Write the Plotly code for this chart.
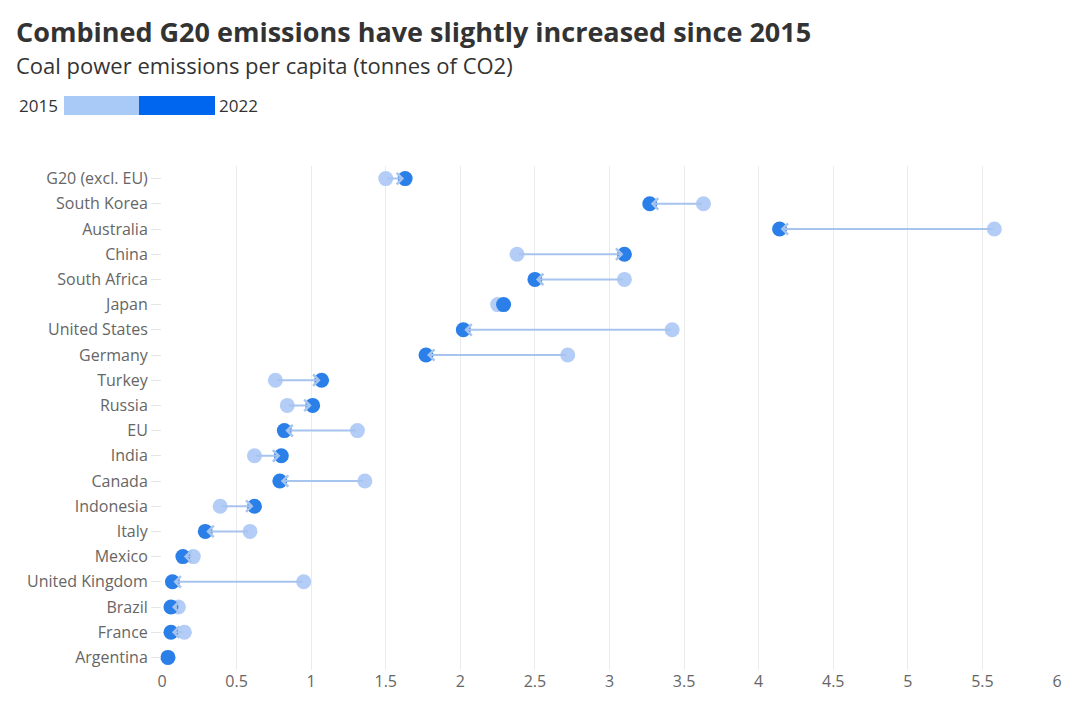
import plotly.graph_objects as go

countries = ["G20 (excl. EU)", "South Korea", "Australia", "China", "South Africa", "Japan",
             "United States", "Germany", "Turkey", "Russia", "EU", "India", "Canada",
             "Indonesia", "Italy", "Mexico", "United Kingdom", "Brazil", "France", "Argentina"]
v2015 = [1.50, 3.63, 5.58, 2.38, 3.10, 2.25, 3.42, 2.72, 0.76, 0.84, 1.31, 0.62, 1.36,
         0.39, 0.59, 0.21, 0.95, 0.11, 0.15, 0.04]
v2022 = [1.63, 3.27, 4.14, 3.10, 2.50, 2.29, 2.02, 1.77, 1.07, 1.01, 0.82, 0.80, 0.79,
         0.62, 0.29, 0.14, 0.07, 0.06, 0.06, 0.04]
xticks = [0, 0.5, 1, 1.5, 2, 2.5, 3, 3.5, 4, 4.5, 5, 5.5, 6]

LIGHT = "#b3cdf6"
DARK = "#2b7fe8"
LINE = "#a6c4ee"
FONT = "Open Sans"
TFONT = "Open Sans"

fig = go.Figure()
fig.add_trace(go.Scatter(x=v2015, y=countries, mode="markers", name="2015",
                         marker=dict(size=15, color=LIGHT), cliponaxis=False,
                         hoverinfo="x+y"))
fig.add_trace(go.Scatter(x=v2022, y=countries, mode="markers", name="2022",
                         marker=dict(size=15, color=DARK), cliponaxis=False,
                         hoverinfo="x+y"))

# plot area geometry
L, T, R, B = 162, 166, 23, 42
W, H = 1080 - L - R, 712 - T - B


def px(xp):
    return (xp - L) / W


def py(yp):
    return (T + H - yp) / H


annotations = []
for c, a, b in zip(countries, v2015, v2022):
    if abs(a - b) < 1e-9:
        continue
    annotations.append(dict(x=b, y=c, ax=a, ay=c, xref="x", yref="y", axref="x", ayref="y",
                            text="", showarrow=True, arrowhead=4, arrowsize=1.1,
                            arrowwidth=2, arrowcolor=LINE, standoff=1, startstandoff=0))

annotations += [
    dict(text="<b>Combined G20 emissions have slightly increased since 2015</b>",
         x=px(14), y=py(31), xref="paper", yref="paper", xanchor="left", yanchor="middle",
         showarrow=False, font=dict(family=TFONT, size=27, color="#333333")),
    dict(text="Coal power emissions per capita (tonnes of CO2)",
         x=px(14), y=py(65), xref="paper", yref="paper", xanchor="left", yanchor="middle",
         showarrow=False, font=dict(family=FONT, size=22, color="#333333")),
    dict(text="2015", x=px(60), y=py(106), xref="paper", yref="paper", xanchor="right",
         yanchor="middle", showarrow=False, font=dict(family=FONT, size=17, color="#333333")),
    dict(text="2022", x=px(217), y=py(106), xref="paper", yref="paper", xanchor="left",
         yanchor="middle", showarrow=False, font=dict(family=FONT, size=17, color="#333333")),
]

fig.update_layout(
    width=1080, height=712,
    margin=dict(l=L, r=R, t=T, b=B),
    plot_bgcolor="white", paper_bgcolor="white",
    showlegend=False,
    font=dict(family=FONT, color="#666666", size=16),
    annotations=annotations,
    shapes=[
        dict(type="rect", xref="paper", yref="paper", x0=px(64), x1=px(139), y0=py(115),
             y1=py(96), fillcolor="#a9c9f7", line=dict(width=0)),
        dict(type="rect", xref="paper", yref="paper", x0=px(139), x1=px(215), y0=py(115),
             y1=py(96), fillcolor="#0066f0", line=dict(width=0)),
    ],
)

fig.update_xaxes(range=[0, 6], tickvals=xticks, ticktext=[f"{t:g}" for t in xticks],
                 showgrid=True, gridcolor="#ebebeb", gridwidth=1, zeroline=False,
                 showline=False, ticks="", tickfont=dict(size=16, color="#666666"))
fig.update_yaxes(categoryorder="array", categoryarray=countries, autorange=False,
                 range=[19.5, -0.5], showgrid=False, zeroline=False, showline=False,
                 ticks="outside", ticklen=10, tickcolor="#e6e6e6",
                 tickfont=dict(size=16, color="#666666"))

fig.write_html("out.html")
